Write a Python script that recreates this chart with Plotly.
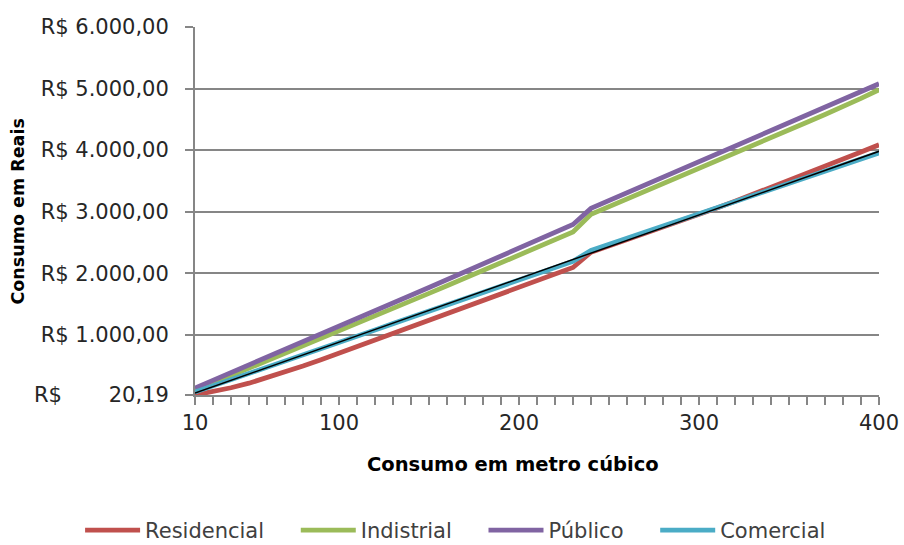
import numpy as np
import plotly.graph_objects as go

# Consumption categories (m³)
consumo = [10, 20, 30, 40, 50, 60, 70, 80, 100, 110, 120, 130, 140, 150, 160,
           170, 180, 190, 200, 210, 220, 230, 240, 250, 260, 270, 280, 290,
           300, 310, 320, 330, 340, 350, 360, 370, 380, 390, 400]

# Cost in R$ per tariff class
residencial = [20.19, 72, 138, 212, 298, 392, 490, 592, 698, 805, 915, 1025,
               1132, 1240, 1346, 1452, 1560, 1668, 1776, 1880, 1985, 2092,
               2340, 2440, 2540, 2640, 2740, 2842, 2948, 3058, 3168, 3280,
               3392, 3505, 3618, 3732, 3850, 3968, 4085]
indistrial = [92, 212, 333, 455, 577, 698, 820, 942, 1062, 1184, 1306, 1428,
              1550, 1672, 1795, 1917, 2038, 2160, 2282, 2412, 2540, 2668,
              2955, 3078, 3202, 3328, 3452, 3578, 3703, 3830, 3955, 4080,
              4203, 4328, 4452, 4577, 4700, 4840, 4980]
publico = [134, 258, 382, 506, 630, 754, 880, 1005, 1130, 1258, 1385, 1512,
           1640, 1768, 1895, 2022, 2150, 2278, 2405, 2535, 2662, 2790,
           3052, 3178, 3305, 3432, 3560, 3686, 3812, 3940, 4062, 4185,
           4310, 4438, 4565, 4692, 4820, 4948, 5077]
comercial = [69, 168, 266, 367, 468, 566, 668, 770, 872, 975, 1076, 1180,
             1282, 1383, 1486, 1588, 1690, 1790, 1893, 1993, 2093, 2193,
             2370, 2470, 2569, 2668, 2767, 2866, 2965, 3064, 3163, 3262,
             3361, 3460, 3559, 3658, 3757, 3856, 3955]

# Axis labels
x_tick_labels = [10, 100, 200, 300, 400]
y_tick_values = [20.19, 1000, 2000, 3000, 4000, 5000, 6000]
y_tick_text = ["R$\u00a0\u00a0\u00a0\u00a0\u00a0\u00a0 20,19", "R$ 1.000,00",
               "R$ 2.000,00", "R$ 3.000,00", "R$ 4.000,00", "R$ 5.000,00",
               "R$ 6.000,00"]

series_names = ["Residencial", "Indistrial", "Público", "Comercial"]
series_colors = ["#C0504D", "#9BBB59", "#8064A2", "#4BACC6"]
series_values = [residencial, indistrial, publico, comercial]

# categories are evenly spaced along the axis
pos = list(range(len(consumo)))
x_tickvals = [consumo.index(v) for v in x_tick_labels]

# extra room after each legend entry except the last
legend_pad = "\u00a0" * 4

fig = go.Figure()
for i, (name, vals, color) in enumerate(zip(series_names, series_values, series_colors)):
    label = name + (legend_pad if i < len(series_names) - 1 else "")
    fig.add_trace(go.Scatter(x=pos, y=vals, mode="lines", name=label,
                             line=dict(color=color, width=4.8)))

# linear trend of the commercial tariff
slope, intercept = np.polyfit(pos, comercial, 1)
trend_x = [pos[0], pos[-1]]
trend_y = [intercept + slope * p for p in trend_x]
fig.add_trace(go.Scatter(x=trend_x, y=trend_y, mode="lines", showlegend=False,
                         line=dict(color="black", width=1.5), hoverinfo="skip"))

axis_gray = "#868686"
fig.update_layout(
    width=904, height=545,
    margin=dict(l=195, r=25, t=27, b=150, autoexpand=False),
    paper_bgcolor="white", plot_bgcolor="white",
    font=dict(family="DejaVu Sans", color="#404040"),
    xaxis=dict(
        range=[0, len(consumo) - 1], tickmode="array", tickvals=x_tickvals,
        ticktext=[str(v) for v in x_tick_labels],
        ticks="outside", ticklen=8, tickwidth=1.5, tickcolor=axis_gray,
        showline=True, linecolor=axis_gray, linewidth=2,
        showgrid=False, zeroline=False,
        tickfont=dict(family="DejaVu Sans", size=21, color="#262626"),
        minor=dict(tickmode="linear", tick0=0, dtick=1, ticks="outside",
                   ticklen=8, tickwidth=1.5, tickcolor=axis_gray, showgrid=False),
    ),
    yaxis=dict(
        range=[20.19, 6000], tickmode="array", tickvals=y_tick_values,
        ticktext=y_tick_text, ticks="outside", ticklen=8, tickwidth=1.5,
        tickcolor=axis_gray, showline=True, linecolor=axis_gray, linewidth=2,
        showgrid=True, gridcolor=axis_gray, gridwidth=1.5, zeroline=False,
        ticklabelstandoff=12,
        tickfont=dict(family="DejaVu Sans", size=21, color="#262626"),
    ),
    legend=dict(orientation="h", x=-0.168, xanchor="left", y=-0.368,
                yanchor="middle", itemwidth=55,
                font=dict(family="DejaVu Sans", size=21, color="#404040")),
    annotations=[
        dict(text="Consumo em metro cúbico", xref="paper", yref="paper",
             x=0.4656, y=-0.1875, xanchor="center", yanchor="middle",
             showarrow=False,
             font=dict(family="DejaVu Sans", size=19.5, color="black",
                       weight="bold")),
        dict(text="Consumo em Reais", xref="paper", yref="paper",
             x=-0.2588, y=0.4986, xanchor="center", yanchor="middle",
             textangle=-90, showarrow=False,
             font=dict(family="DejaVu Sans", size=17.5, color="black",
                       weight="bold")),
    ],
)

fig.write_html("out.html")
